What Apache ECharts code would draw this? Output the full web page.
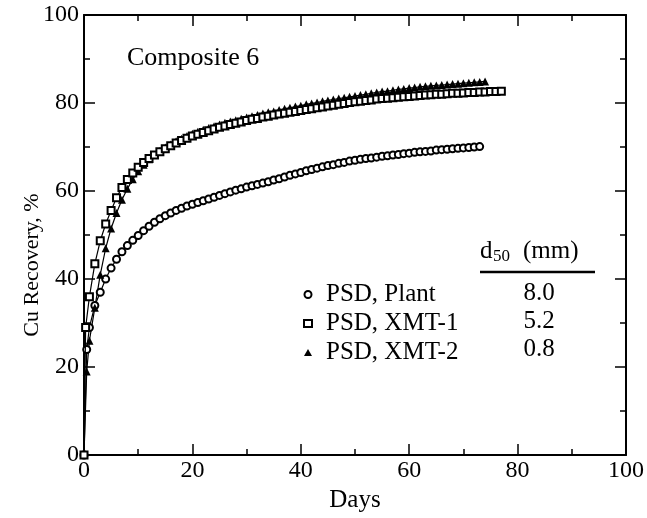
<!DOCTYPE html>
<html>
<head>
<meta charset="utf-8">
<script src="https://cdn.jsdelivr.net/npm/echarts@6/dist/echarts.min.js"></script>
<style>html,body{margin:0;padding:0;background:#fff}#c{width:647px;height:518px}</style>
</head>
<body>
<div id="c"></div>
<script>
const seriesNames = ['PSD, Plant', 'PSD, XMT-1', 'PSD, XMT-2'];
const d50Values = ['8.0', '5.2', '0.8'];
const xTicks = [0, 20, 40, 60, 80, 100];
const yTicks = [0, 20, 40, 60, 80, 100];

const plantDays = [0,0.5,1,2,3,4,5,6,7,8,9,10,11,12,13,14,15,16,17,18,19,20,21,22,23,24,25,26,27,28,29,30,31,32,33,34,35,36,37,38,39,40,41,42,43,44,45,46,47,48,49,50,51,52,53,54,55,56,57,58,59,60,61,62,63,64,65,66,67,68,69,70,71,72,73];
const plantRec = [0,24,29,34,37,40,42.5,44.5,46.2,47.6,48.8,49.9,51,52,52.9,53.7,54.4,55.0,55.6,56.1,56.6,57.0,57.4,57.8,58.2,58.6,59.0,59.4,59.8,60.2,60.5,60.9,61.2,61.5,61.8,62.1,62.5,62.8,63.2,63.6,63.9,64.2,64.6,64.9,65.2,65.5,65.8,66.0,66.3,66.5,66.8,67.0,67.2,67.4,67.5,67.7,67.9,68.0,68.2,68.3,68.5,68.6,68.8,68.9,69.0,69.1,69.3,69.4,69.5,69.6,69.7,69.8,69.9,70.0,70.1];

const xmt1Days = [0,0.3,1,2,3,4,5,6,7,8,9,10,11,12,13,14,15,16,17,18,19,20,21,22,23,24,25,26,27,28,29,30,31,32,33,34,35,36,37,38,39,40,41,42,43,44,45,46,47,48,49,50,51,52,53,54,55,56,57,58,59,60,61,62,63,64,65,66,67,68,69,70,71,72,73,74,75,76,77];
const xmt1Rec = [0,29,36,43.5,48.7,52.5,55.6,58.5,60.8,62.6,64.1,65.4,66.5,67.4,68.2,68.9,69.6,70.3,70.9,71.5,72.0,72.5,72.9,73.3,73.7,74.1,74.5,74.8,75.1,75.4,75.7,76.0,76.3,76.5,76.8,77.0,77.3,77.5,77.7,77.9,78.1,78.3,78.5,78.7,78.9,79.1,79.3,79.5,79.7,79.9,80.1,80.3,80.4,80.6,80.7,80.9,81.0,81.1,81.2,81.3,81.4,81.5,81.6,81.7,81.8,81.9,82.0,82.0,82.1,82.2,82.2,82.3,82.4,82.4,82.5,82.5,82.6,82.6,82.7];

const xmt2Days = [0,0.5,1,2,3,4,5,6,7,8,9,10,11,12,13,14,15,16,17,18,19,20,21,22,23,24,25,26,27,28,29,30,31,32,33,34,35,36,37,38,39,40,41,42,43,44,45,46,47,48,49,50,51,52,53,54,55,56,57,58,59,60,61,62,63,64,65,66,67,68,69,70,71,72,73,74];
const xmt2Rec = [0,19,26,33.5,41,47,51.5,55,58,60.5,62.7,64.5,66,67.2,68.2,69.1,69.9,70.6,71.3,71.9,72.5,73.0,73.5,73.9,74.3,74.7,75.1,75.5,75.8,76.1,76.4,76.7,77.0,77.3,77.6,77.9,78.1,78.4,78.7,78.9,79.2,79.4,79.7,79.9,80.1,80.4,80.6,80.8,81.0,81.2,81.4,81.6,81.8,82.0,82.2,82.4,82.6,82.7,82.9,83.1,83.2,83.4,83.5,83.7,83.8,83.9,84.0,84.1,84.2,84.3,84.4,84.5,84.6,84.7,84.8,84.9];

const pair = (xs, ys) => xs.map((x, i) => [x, ys[i]]);
const FONT = '"Liberation Serif", "DejaVu Serif", serif';
const chart = echarts.init(document.getElementById('c'));

function xAxisDef(pos, labels) {
  return {
    type: 'value', position: pos, min: xTicks[0], max: xTicks[xTicks.length - 1], interval: 20,
    axisLine: {show: true, onZero: false, lineStyle: {color: '#000', width: 2}},
    axisTick: {show: true, inside: true, length: 11, lineStyle: {color: '#000', width: 1.5}},
    minorTick: {show: true, splitNumber: 2, length: 6, lineStyle: {color: '#000', width: 1.5}},
    splitLine: {show: false},
    axisLabel: {show: labels, color: '#000', fontFamily: FONT, fontSize: 24, margin: 4},
    name: labels ? 'Days' : '', nameLocation: 'middle', nameGap: 28,
    nameTextStyle: {color: '#000', fontFamily: FONT, fontSize: 25}
  };
}
function yAxisDef(pos, labels) {
  return {
    type: 'value', position: pos, min: yTicks[0], max: yTicks[yTicks.length - 1], interval: 20,
    axisLine: {show: true, onZero: false, lineStyle: {color: '#000', width: 2}},
    axisTick: {show: true, inside: true, length: 11, lineStyle: {color: '#000', width: 1.5}},
    minorTick: {show: true, splitNumber: 2, length: 6, lineStyle: {color: '#000', width: 1.5}},
    splitLine: {show: false},
    axisLabel: {show: labels, color: '#000', fontFamily: FONT, fontSize: 24, margin: 5}
  };
}

const option = {
  animation: false,
  backgroundColor: '#fff',
  grid: {left: 84, right: 21, top: 15, bottom: 53},
  xAxis: [xAxisDef('bottom', true), xAxisDef('top', false)],
  yAxis: [yAxisDef('left', true), yAxisDef('right', false)],
  legend: {
    orient: 'vertical', left: 298, top: 277, itemWidth: 8, itemHeight: 7, itemGap: 4,
    textStyle: {color: '#000', fontFamily: FONT, fontSize: 25, lineHeight: 24, padding: [0, 0, 0, 9]},
    data: [
      {name: seriesNames[0], icon: 'emptyCircle', itemStyle: {color: '#000', borderColor: '#000', borderWidth: 2}},
      {name: seriesNames[1], icon: 'emptyRect', itemStyle: {color: '#000', borderColor: '#000', borderWidth: 2}},
      {name: seriesNames[2], icon: 'triangle', itemStyle: {color: '#000', borderColor: '#000', borderWidth: 0}}
    ]
  },
  series: [
    {name: seriesNames[0], type: 'line', data: pair(plantDays, plantRec), z: 3,
     symbol: 'emptyCircle', symbolSize: 7,
     lineStyle: {color: '#000', width: 1.2}, itemStyle: {color: '#000', borderColor: '#000', borderWidth: 2.2}},
    {name: seriesNames[2], type: 'line', data: pair(xmt2Days, xmt2Rec), z: 3,
     symbol: 'triangle', symbolSize: 8,
     lineStyle: {color: '#000', width: 1.2}, itemStyle: {color: '#000', borderColor: '#000', borderWidth: 0}},
    {name: seriesNames[1], type: 'line', data: pair(xmt1Days, xmt1Rec), z: 4,
     symbol: 'emptyRect', symbolSize: 7,
     lineStyle: {color: '#000', width: 1.2}, itemStyle: {color: '#000', borderColor: '#000', borderWidth: 1.8}}
  ],
  graphic: [
    {type: 'text', left: 127, top: 45, style: {text: 'Composite 6', fill: '#000', font: '26px ' + FONT}},
    {type: 'text', x: 32, y: 265, rotation: Math.PI / 2,
     style: {text: 'Cu Recovery, %', fill: '#000', font: '22px ' + FONT, align: 'center', verticalAlign: 'middle'}},
    {type: 'text', x: 480, y: 251, style: {text: 'd', fill: '#000', font: '25px ' + FONT, verticalAlign: 'middle'}},
    {type: 'text', x: 493, y: 257, style: {text: '50', fill: '#000', font: '17px ' + FONT, verticalAlign: 'middle'}},
    {type: 'text', x: 523, y: 251, style: {text: '(mm)', fill: '#000', font: '25px ' + FONT, verticalAlign: 'middle'}},
    {type: 'line', shape: {x1: 480, y1: 272, x2: 595, y2: 272}, style: {stroke: '#000', lineWidth: 2.5}},
    {type: 'text', x: 539, y: 293, style: {text: d50Values[0], fill: '#000', font: '25px ' + FONT, align: 'center', verticalAlign: 'middle'}},
    {type: 'text', x: 539, y: 321, style: {text: d50Values[1], fill: '#000', font: '25px ' + FONT, align: 'center', verticalAlign: 'middle'}},
    {type: 'text', x: 539, y: 349, style: {text: d50Values[2], fill: '#000', font: '25px ' + FONT, align: 'center', verticalAlign: 'middle'}}
  ]
};
chart.setOption(option);
</script>
</body>
</html>
